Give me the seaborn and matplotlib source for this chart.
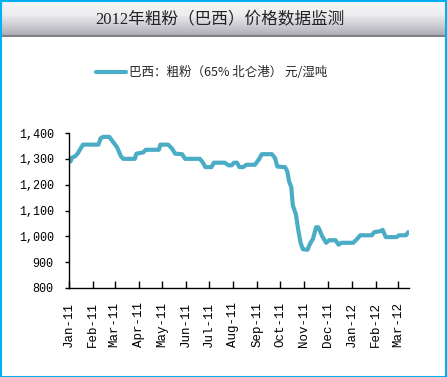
import numpy as np
import pandas as pd
import matplotlib
matplotlib.use("Agg")
import matplotlib.pyplot as plt
import matplotlib.dates as mdates
import seaborn as sns

# ---- data ----
day_offsets = [2, 4, 8, 11, 14, 18, 38, 41, 44, 52, 57, 62, 67, 70, 85, 87, 96, 99,
               116, 118, 128, 133, 137, 146, 150, 169, 173, 176, 184, 187, 201, 206,
               210, 213, 217, 220, 225, 229, 240, 245, 249, 262, 266, 269, 279, 282,
               284, 287, 289, 293, 296, 299, 302, 308, 311, 315, 319, 322, 327, 332,
               336, 344, 348, 352, 367, 372, 376, 391, 394, 402, 405, 409, 423, 426,
               435, 438]
prices = [1290, 1305, 1310, 1320, 1335, 1355, 1355, 1380, 1385, 1385, 1365, 1345,
          1310, 1300, 1300, 1320, 1325, 1335, 1335, 1355, 1355, 1340, 1320, 1318,
          1300, 1300, 1285, 1268, 1268, 1285, 1285, 1275, 1275, 1285, 1285, 1268,
          1268, 1277, 1277, 1297, 1318, 1318, 1303, 1270, 1268, 1250, 1215, 1190,
          1120, 1085, 1025, 975, 950, 948, 970, 990, 1035, 1035, 1000, 975, 985,
          985, 968, 975, 975, 990, 1004, 1004, 1016, 1020, 1025, 997, 997, 1004,
          1004, 1016]
start_date = "2011-01-01"
end_date = "2012-03-15"
series_label = "巴西：粗粉（65% 北仑港） 元/湿吨"
title = "2012年粗粉（巴西）价格数据监测"
yticks = [800, 900, 1000, 1100, 1200, 1300, 1400]

dates = pd.Timestamp(start_date) + pd.to_timedelta(day_offsets, unit="D")
df = pd.DataFrame({"date": dates, "price": prices})

sns.set_theme(style="white")
plt.rcParams["font.family"] = ["Liberation Mono", "Noto Sans CJK SC", "DejaVu Sans"]

W, H = 447, 377
fig = plt.figure(figsize=(W / 100, H / 100), dpi=100)
fig.patch.set_facecolor("white")

# title band with gradient
band_h = 37
bax = fig.add_axes([0, 1 - band_h / H, 1, band_h / H])
grad = np.linspace(0, 1, 64)
top = np.array([0.97, 0.97, 0.97])
mid = np.array([0.93, 0.93, 0.94])
bot = np.array([0.66, 0.66, 0.70])
cols = np.array([top + (mid - top) * min(g / 0.4, 1) if g < 0.4 else mid + (bot - mid) * ((g - 0.4) / 0.6) for g in grad])
bax.imshow(cols[:, None, :], aspect="auto", extent=[0, 1, 0, 1])
bax.axhline(0.02, color="#808088", lw=1.5)
bax.set_xlim(0, 1); bax.set_ylim(0, 1)
bax.axis("off")
fig.text(220 / W, 1 - 20 / H, title, ha="center", va="center", fontsize=12,
         family=["Liberation Serif", "Noto Sans CJK SC"], color="#222222")

# main axes
ax = fig.add_axes([69 / W, (H - 288) / H, (409 - 69) / W, (288 - 133) / H])
sns.lineplot(data=df, x="date", y="price", ax=ax, color="#4BACC6", lw=3,
             label=series_label, drawstyle="default")
ax.set_xlim(pd.Timestamp(start_date), pd.Timestamp(end_date))
ax.set_ylim(800, 1400)
ax.set_yticks(yticks)
ax.set_yticklabels([f"{v:,}" for v in yticks])
ax.xaxis.set_major_locator(mdates.MonthLocator())
ax.xaxis.set_major_formatter(mdates.DateFormatter("%b-%y"))
for lab in ax.get_xticklabels():
    lab.set_rotation(90)
    lab.set_va("top")
    lab.set_ha("center")
ax.tick_params(axis="x", direction="in", length=5, width=1, pad=10, labelsize=9,
               colors="black", bottom=True)
ax.tick_params(axis="y", direction="out", length=3, width=1, pad=8, labelsize=8.5,
               colors="black", left=True)
for s in ["top", "right"]:
    ax.spines[s].set_visible(False)
for s in ["left", "bottom"]:
    ax.spines[s].set_color("black")
    ax.spines[s].set_linewidth(1)
ax.set_xlabel("")
ax.set_ylabel("")
ax.grid(False)

leg = ax.legend(loc="center", bbox_to_anchor=(212 / W, 1 - 73 / H),
                bbox_transform=fig.transFigure, frameon=False, fontsize=9,
                handlelength=2.4, handletextpad=0.25, borderpad=0)
for t in leg.get_texts():
    t.set_family(["Noto Sans CJK SC", "DejaVu Sans"])

# cyan outer border
fig.add_artist(plt.Rectangle((0.5 / W, 0.5 / H), 1 - 1.5 / W, 1 - 1.5 / H,
                             transform=fig.transFigure, fill=False,
                             edgecolor="#00B0F0", lw=1.5))

fig.savefig("out.png", dpi=100)
